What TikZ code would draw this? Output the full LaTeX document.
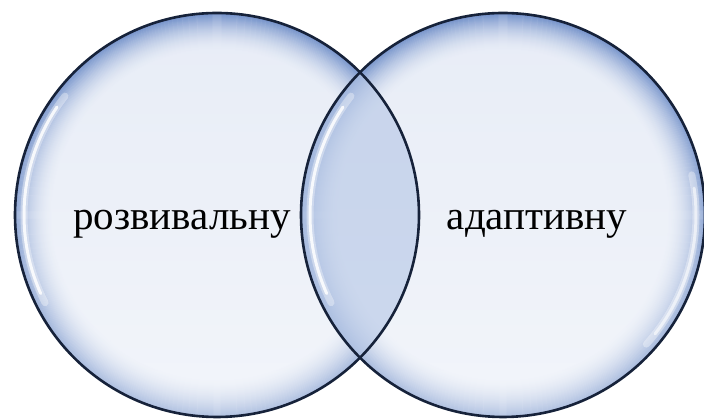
\documentclass[tikz,border=0pt]{standalone}
\usepackage{fontspec}
\setmainfont{Liberation Serif}
\usetikzlibrary{fadings}
\definecolor{cin}{HTML}{E8EDF7}
\definecolor{cout}{HTML}{7391CA}
\definecolor{clens}{HTML}{B3C5E5}
\definecolor{cline}{HTML}{16223A}
\tikzset{
  rim/.style={draw=cline, line width=2.6pt},
  shinesoft/.style={draw=white, line width=7pt, line cap=round, draw opacity=0.35},
  shine/.style={draw=white, line width=3pt, line cap=round, draw opacity=0.85},
  lbl/.style={font=\fontsize{41}{48}\selectfont, anchor=base, inner sep=0pt}
}
\newcommand\ringfill[1]{%
  \foreach \i in {0,...,38}{%
    \pgfmathsetmacro\pp{100*(1-\i/38)^1.8}%
    \draw[line width=1.4pt, cout!\pp!cin] (#1) circle[radius=201-\i];
  }%
}
\newcommand\glassdisc[1]{%
  \fill[cin] (#1) circle[radius=202];
  \ringfill{#1}
  \fill[white, path fading=north, fill opacity=0.45] (#1) circle[radius=201];
}
\newcommand\shines[1]{%
  \draw[shinesoft] (#1) ++(142:193) arc[start angle=142, end angle=207, radius=193];
  \draw[shine] (#1) ++(146:193) arc[start angle=146, end angle=204, radius=193];
  \draw[shinesoft] (#1) ++(12:193) arc[start angle=12, end angle=-42, radius=193];
  \draw[shine, draw opacity=0.6] (#1) ++(8:193) arc[start angle=8, end angle=-38, radius=193];
}
\begin{document}
\begin{tikzpicture}[x=1pt,y=1pt]
\useasboundingbox (0,0) rectangle (704,419);
\coordinate (L) at (217,204);
\coordinate (R) at (503,204);
\glassdisc{L}
\shines{L}
\glassdisc{R}
% lens: left circle shows through the right one
\begin{scope}[transparency group, opacity=0.6]
  \clip (R) circle[radius=202];
  \ringfill{L}
  \begin{scope}
    \clip (L) circle[radius=202];
    \fill[clens] (R) circle[radius=202];
  \end{scope}
\end{scope}
\shines{R}
% rims
\draw[rim] (L) circle[radius=202];
\draw[rim] (R) circle[radius=202];
% labels
\node[lbl] (t1) at (182,189) {розвивальну};
\node[lbl] (t2) at (537,189) {адаптивну};
\end{tikzpicture}
\end{document}
